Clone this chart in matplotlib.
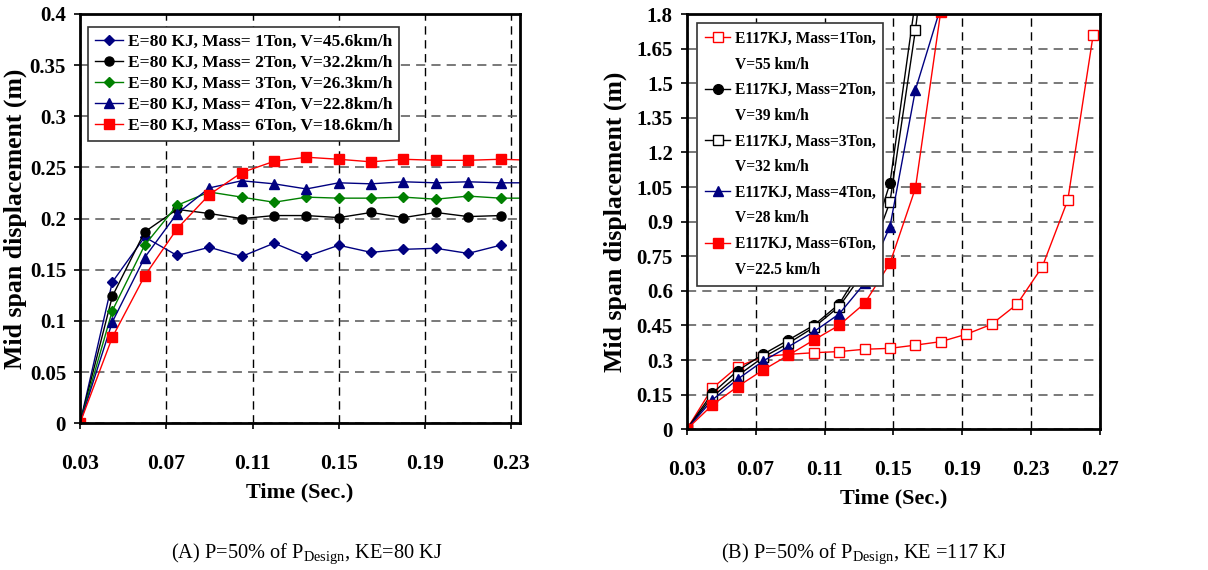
import matplotlib
matplotlib.use('Agg')
import matplotlib.pyplot as plt
from matplotlib.lines import Line2D
import numpy as np

plt.rcParams['font.family'] = 'Liberation Serif'
plt.rcParams['mathtext.fontset'] = 'custom'
plt.rcParams['mathtext.rm'] = 'Liberation Serif'

# ---- (A) KE = 80 KJ ----
t_a = [0.03, 0.045, 0.06, 0.075, 0.09, 0.105, 0.12, 0.135, 0.15, 0.165, 0.18, 0.195, 0.21, 0.225, 0.24]
m1_a = [0, 0.138, 0.182, 0.164, 0.172, 0.163, 0.176, 0.163, 0.174, 0.167, 0.170, 0.171, 0.166, 0.174]
m2_a = [0, 0.124, 0.187, 0.209, 0.205, 0.200, 0.203, 0.203, 0.201, 0.206, 0.201, 0.206, 0.202, 0.203]
m3_a = [0, 0.110, 0.174, 0.213, 0.226, 0.221, 0.216, 0.221, 0.220, 0.220, 0.221, 0.219, 0.222, 0.220, 0.220]
m4_a = [0, 0.099, 0.162, 0.205, 0.230, 0.237, 0.234, 0.229, 0.235, 0.234, 0.236, 0.235, 0.236, 0.235, 0.235]
m6_a = [0, 0.084, 0.144, 0.190, 0.2235, 0.245, 0.256, 0.260, 0.258, 0.2555, 0.258, 0.257, 0.257, 0.258, 0.257]
labels_a = ['E=80 KJ, Mass= 1Ton, V=45.6km/h', 'E=80 KJ, Mass= 2Ton, V=32.2km/h',
            'E=80 KJ, Mass= 3Ton, V=26.3km/h', 'E=80 KJ, Mass= 4Ton, V=22.8km/h',
            'E=80 KJ, Mass= 6Ton, V=18.6km/h']

# ---- (B) KE = 117 KJ ----
t_b = [0.03, 0.0448, 0.0595, 0.0743, 0.089, 0.1038, 0.1185, 0.1333, 0.148, 0.1628,
       0.1775, 0.1923, 0.207, 0.2218, 0.2365, 0.2513, 0.266]
m1_b = [0, 0.178, 0.271, 0.315, 0.325, 0.332, 0.337, 0.347, 0.351, 0.365, 0.380, 0.412,
        0.455, 0.542, 0.705, 0.994, 1.708]
m2_b = [0, 0.156, 0.254, 0.325, 0.387, 0.451, 0.543, 0.720, 1.066, 1.86]
m3_b = [0, 0.141, 0.232, 0.312, 0.373, 0.442, 0.532, 0.686, 0.985, 1.731, 2.6]
m4_b = [0, 0.127, 0.217, 0.296, 0.358, 0.423, 0.500, 0.633, 0.878, 1.471, 1.83]
m6_b = [0, 0.105, 0.185, 0.257, 0.321, 0.387, 0.451, 0.546, 0.720, 1.045, 1.81]
labels_b = ['E117KJ, Mass=1Ton,\nV=55 km/h', 'E117KJ, Mass=2Ton,\nV=39 km/h',
            'E117KJ, Mass=3Ton,\nV=32 km/h', 'E117KJ, Mass=4Ton,\nV=28 km/h',
            'E117KJ, Mass=6Ton,\nV=22.5 km/h']

fig = plt.figure(figsize=(12.08, 5.70), dpi=100)
ax1 = fig.add_axes([0.0662, 0.2574, 0.3642, 0.7181])
ax2 = fig.add_axes([0.5685, 0.2468, 0.3421, 0.7286])

navy = '#000080'
green = '#008000'
red = '#FF0000'

def n(y):
    return t_a[:len(y)]

ax1.plot(n(m1_a), m1_a, color=navy, marker='D', ms=5, lw=1, label=labels_a[0])
ax1.plot(n(m2_a), m2_a, color='black', marker='o', ms=6.5, lw=1, label=labels_a[1])
ax1.plot(n(m3_a), m3_a, color=green, marker='D', ms=5, lw=1, label=labels_a[2])
ax1.plot(n(m4_a), m4_a, color=navy, marker='^', ms=6.5, lw=1, label=labels_a[3])
ax1.plot(n(m6_a), m6_a, color=red, marker='s', ms=6.5, lw=1, label=labels_a[4])

def nb(y):
    return t_b[:len(y)]

lines_b = []
lines_b += ax2.plot(nb(m1_b), m1_b, color=red, marker='s', ms=6.5, mfc='white', mec=red, lw=1)
lines_b += ax2.plot(nb(m2_b), m2_b, color='black', marker='o', ms=7, lw=1)
lines_b += ax2.plot(nb(m3_b), m3_b, color='black', marker='s', ms=6.5, mfc='white', mec='black', lw=1)
lines_b += ax2.plot(nb(m4_b), m4_b, color=navy, marker='^', ms=7, lw=1)
lines_b += ax2.plot(nb(m6_b), m6_b, color=red, marker='s', ms=7, lw=1)

def style(ax, xmax, ymax, ystep, ylab_x):
    ax.set_xlim(0.03, xmax)
    ax.set_ylim(0, ymax)
    xt = np.arange(0.03, xmax + 1e-6, 0.04)
    ax.set_xticks(xt)
    ax.set_xticklabels(['%.2f' % v for v in xt], fontsize=15.5, fontweight='bold')
    yt = np.arange(0, ymax + 1e-6, ystep)
    ax.set_yticks(yt)
    ax.set_yticklabels([('%.2f' % v).rstrip('0').rstrip('.') for v in yt], fontsize=15, fontweight='bold')
    ax.tick_params(axis='x', length=4, width=1.2, pad=18)
    ax.tick_params(axis='y', length=4, width=1.2, pad=6)
    ax.yaxis.grid(True, color='#555555', linestyle=(0, (6, 4)), lw=1.1)
    ax.xaxis.grid(True, color='black', linestyle=(0, (6, 4)), lw=1.0)
    ax.set_axisbelow(True)
    for s in ax.spines.values():
        s.set_linewidth(2)
    ax.set_xlabel('Time (Sec.)', fontsize=16, fontweight='bold', labelpad=6)
    ax.set_ylabel('Mid span displacement (m)', fontsize=18.5, fontweight='bold')
    ax.yaxis.set_label_coords(ylab_x, 0.5)

style(ax1, 0.234, 0.4, 0.05, -0.12)
style(ax2, 0.27, 1.8, 0.15, -0.145)

leg1 = ax1.legend(loc='upper left', bbox_to_anchor=(0.018, 0.968), prop=dict(size=12.5, weight='bold'),
                  frameon=True, fancybox=False, edgecolor='#333333', framealpha=1, borderaxespad=0,
                  handlelength=1.6, handletextpad=0.3, labelspacing=0.28, borderpad=0.4)
leg1.get_frame().set_linewidth(1.2)

# two rows per entry: marker on the first row, second row without a handle
handles_b, rows_b = [], []
for ln, lab in zip(lines_b, labels_b):
    first, second = lab.split('\n')
    handles_b += [ln, Line2D([], [], linestyle='none')]
    rows_b += [first, second]

leg2 = ax2.legend(handles_b, rows_b, loc='upper left', bbox_to_anchor=(0.026, 0.978),
                  prop=dict(size=11.2, weight='bold'),
                  frameon=True, fancybox=False, edgecolor='#333333', framealpha=1, borderaxespad=0,
                  handlelength=1.6, handletextpad=0.3, labelspacing=0.62, borderpad=0.5)
leg2.get_frame().set_linewidth(1.2)

fig.text(0.254, 0.022, r'(A) P=50% of P$_{\mathrm{Design}}$, KE=80 KJ', ha='center', fontsize=14.7)
fig.text(0.715, 0.022, r'(B) P=50% of P$_{\mathrm{Design}}$, KE =117 KJ', ha='center', fontsize=14.7)

fig.savefig('out.png', dpi=100)
